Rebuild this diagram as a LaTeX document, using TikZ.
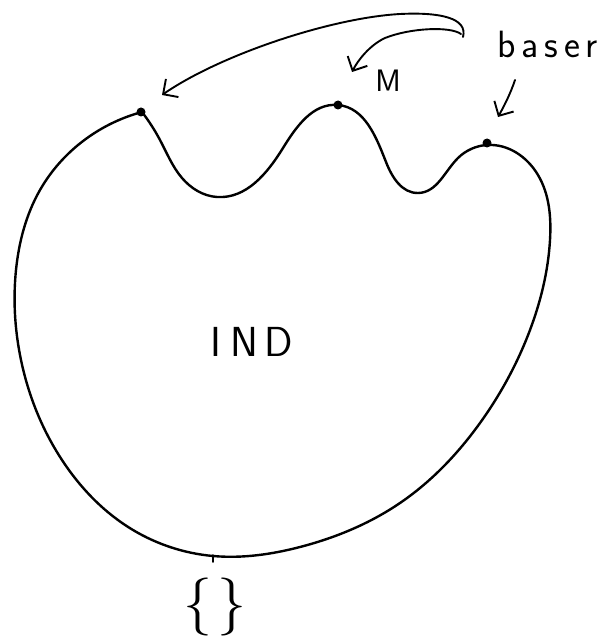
\documentclass[tikz,border=0pt]{standalone}
\usetikzlibrary{arrows.meta,hobby}
\begin{document}
\begin{tikzpicture}[x=1pt,y=-1pt,
  pen/.style={line width=2.4pt, line cap=round, line join=round},
  ptr/.style={line width=1.9pt, line cap=round, -{Straight Barb[length=11pt,width=22pt,line width=1.9pt]}},
  dotmark/.style={circle, fill=black, inner sep=0pt, minimum size=9pt},
  hand/.style={font=\sffamily, inner sep=0pt}]
\useasboundingbox (0,0) rectangle (606,639);
% outline (peak 1 is a corner)
\draw[pen, use Hobby shortcut]
 (142,112) .. (160,140) .. (182,178) .. (217,197) .. (283,148) .. (338,105) .. (386,162) .. (418,193)
 .. (458,158) .. (487,145) .. (538,175) .. (550,240) .. (530,330) .. (480,423) .. (400,503)
 .. (300,547) .. (213,556) .. (133,530) .. (62,460) .. (20,355) .. (16,270) .. (40,190) .. (90,136) .. (142,112);
% peaks
\node[dotmark] (p1) at (141,112) {};
\node[dotmark] (p2) at (338,105) {};
\node[dotmark] (p3) at (487,143) {};
% bottom tick
\coordinate (b1) at (213,555);
\coordinate (b2) at (213,562);
\draw[pen, line width=1.5pt] (b1) -- (b2);
% labels
\node[hand, font=\sffamily\fontsize{38}{44}\selectfont, anchor=base] (baser) at (548,58) {b\kern5pt a\kern6pt s\kern6pt e\kern6pt r};
\node[hand, font=\sffamily\fontsize{31}{36}\selectfont, anchor=base] (M) at (388,92) {M};
\node[hand, font=\sffamily\fontsize{42}{48}\selectfont, anchor=base] (IND) at (252,356) {I\kern9pt N\kern6pt D};
\node[hand, font=\fontsize{58}{64}\selectfont, anchor=base] (set) at (215,621) {\{\kern6pt\}};
% pointers
\coordinate (s1) at (463,37);
\coordinate (s2) at (461,34);
\coordinate (s3) at (515,80);
\coordinate (t1) at (162,95);
\coordinate (t2) at (352,72);
\coordinate (t3) at (498,117);
\draw[ptr] (s1) .. controls (468,18) and (440,12) .. (400,14) .. controls (330,18) and (220,55) .. (t1);
\draw[ptr] (s2) .. controls (450,26) and (410,28) .. (385,38) .. controls (370,45) and (358,60) .. (t2);
\draw[ptr] (s3) .. controls (510,95) and (503,108) .. (t3);
\end{tikzpicture}
\end{document}
